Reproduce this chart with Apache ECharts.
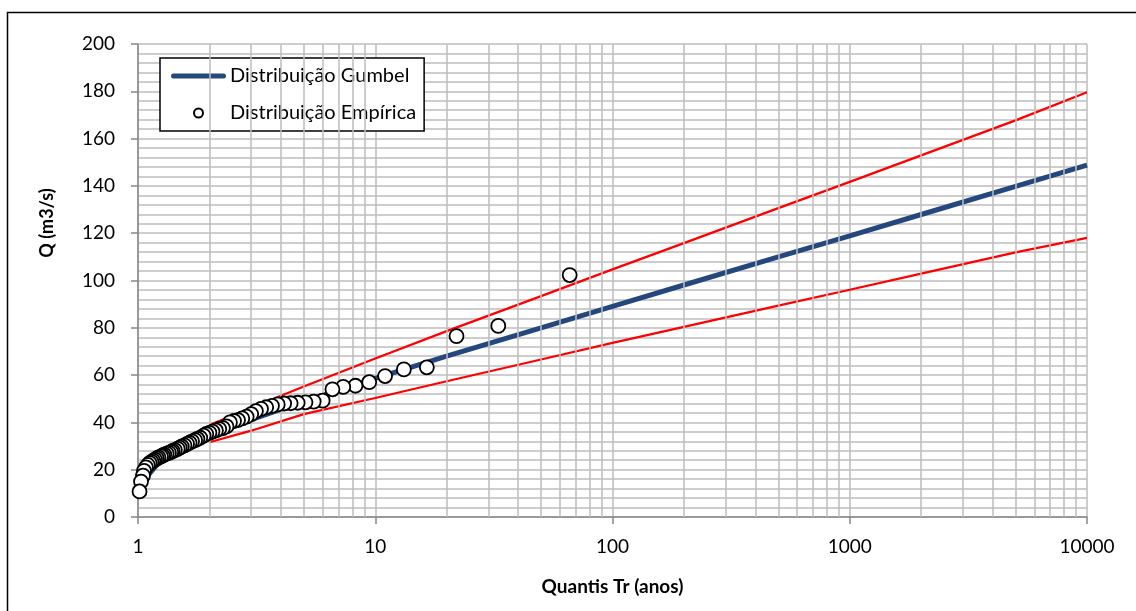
<!DOCTYPE html>
<html>
<head>
<meta charset="utf-8">
<script src="https://cdn.jsdelivr.net/npm/echarts@6/dist/echarts.min.js"></script>
<style>
  html, body { margin: 0; padding: 0; background: #fff; }
  #chart { width: 1136px; height: 611px; }
</style>
</head>
<body>
<div id="chart"></div>
<script>
  // Tr (anos) e Q (m3/s)
  var gumbelT = [1.05, 1.2, 1.5, 2, 3, 5, 10, 20, 50, 100, 200, 500, 1000, 2000, 5000, 10000]
  var gumbelQ = [15.1, 22.0, 28.3, 34.3, 41.2, 48.9, 58.6, 68.0, 80.0, 89.1, 98.1, 110.0, 118.9, 127.9, 139.8, 148.8]

  var bandT = [2, 3, 5, 10, 20, 50, 100, 200, 500, 1000, 2000, 5000, 10000]
  var upperQ = [38.9, 46.2, 55.2, 67.0, 78.6, 93.4, 104.7, 115.8, 130.6, 141.7, 152.9, 167.7, 179.6]
  var lowerQ = [31.6, 36.5, 43.5, 50.3, 57.4, 66.6, 73.6, 80.4, 89.4, 96.1, 102.9, 111.9, 118.0]

  var empT = [66, 33, 22, 16.5, 13.2, 11, 9.43, 8.25, 7.33, 6.6,
    6, 5.5, 5.08, 4.71, 4.4, 4.13, 3.88, 3.67, 3.47, 3.3,
    3.14, 3, 2.87, 2.75, 2.64, 2.54, 2.44, 2.36, 2.28, 2.2,
    2.13, 2.06, 2, 1.94, 1.89, 1.83, 1.78, 1.74, 1.69, 1.65,
    1.61, 1.57, 1.53, 1.5, 1.47, 1.43, 1.4, 1.38, 1.35, 1.32,
    1.29, 1.27, 1.25, 1.22, 1.2, 1.18, 1.16, 1.14, 1.12, 1.1,
    1.08, 1.06, 1.05, 1.03, 1.015]
  var empQ = [102.3, 80.8, 76.5, 63.3, 62.4, 59.6, 57.0, 55.5, 55.0, 54.0,
    49.2, 48.8, 48.5, 48.3, 48.1, 48.0, 47.6, 47.0, 46.4, 45.7,
    44.8, 43.5, 42.4, 41.7, 41.0, 40.6, 40.0, 38.3, 37.6, 37.2,
    36.6, 36.1, 35.6, 35.1, 34.4, 33.5, 33.0, 32.5, 32.0, 31.4,
    30.9, 30.3, 29.8, 29.3, 28.8, 28.3, 27.9, 27.5, 27.1, 26.8,
    26.4, 26.0, 25.6, 25.2, 24.8, 24.3, 23.8, 23.3, 22.8, 22.0,
    21.0, 19.5, 17.5, 15.0, 10.8]

  var minorGridX = [2, 3, 4, 5, 6, 7, 8, 9, 20, 30, 40, 50, 60, 70, 80, 90,
    200, 300, 400, 500, 600, 700, 800, 900, 2000, 3000, 4000, 5000, 6000, 7000, 8000, 9000]

  function pairs(xs, ys) {
    return xs.map(function (x, i) { return [x, ys[i]] })
  }

  var font = 'Lato, "Open Sans", sans-serif'
  var gridColor = '#bdbdbd'
  var lineIcon = 'path://M2.5,0 H52.5 A2.5,2.5 0 0 1 52.5,5 H2.5 A2.5,2.5 0 0 1 2.5,0 Z'

  var chart = echarts.init(document.getElementById('chart'))
  chart.setOption({
    animation: false,
    backgroundColor: '#fff',
    graphic: [{
      type: 'rect',
      shape: { x: 7.5, y: 12.5, width: 1140, height: 610 },
      style: { fill: 'none', stroke: '#000', lineWidth: 1.5 },
      silent: true
    }],
    grid: { left: 138, right: 49, top: 44, bottom: 94 },
    legend: {
      left: 160,
      top: 58,
      orient: 'vertical',
      backgroundColor: '#fff',
      borderColor: '#000',
      borderWidth: 1.5,
      borderRadius: 0,
      padding: [8, 8, 8, 11],
      itemWidth: 55,
      itemHeight: 9,
      itemGap: 17,
      textStyle: { fontFamily: font, fontSize: 20, color: '#000', padding: [0, 0, 0, -1] },
      data: [
        { name: 'Distribuição Gumbel', icon: lineIcon },
        { name: 'Distribuição Empírica' }
      ]
    },
    xAxis: {
      type: 'log',
      logBase: 10,
      min: 1,
      max: 10000,
      name: 'Quantis Tr (anos)',
      nameLocation: 'middle',
      nameGap: 60,
      nameTextStyle: { fontFamily: font, fontSize: 19, fontWeight: 'bold', color: '#000' },
      axisLine: { lineStyle: { color: '#868686', width: 1.5 } },
      axisTick: { show: true, length: 7, lineStyle: { color: '#868686', width: 1.5 } },
      axisLabel: {
        fontFamily: font, fontSize: 19, color: '#000', margin: 20,
        formatter: function (v) { return String(Math.round(v)) }
      },
      splitLine: { show: true, lineStyle: { color: gridColor, width: 1.5 } }
    },
    yAxis: {
      type: 'value',
      min: 0,
      max: 200,
      interval: 20,
      name: 'Q (m3/s)',
      nameLocation: 'middle',
      nameGap: 82,
      nameTextStyle: { fontFamily: font, fontSize: 18, fontWeight: 'bold', color: '#000', padding: [0, 0, 0, 115] },
      axisLine: { show: true, lineStyle: { color: '#868686', width: 1.5 } },
      axisTick: { show: true, length: 7, lineStyle: { color: '#868686', width: 1.5 } },
      axisLabel: { fontFamily: font, fontSize: 19, color: '#000', margin: 23 },
      splitLine: { show: true, lineStyle: { color: gridColor, width: 1.5 } },
      minorTick: { show: false, splitNumber: 5 },
      minorSplitLine: { show: true, lineStyle: { color: gridColor, width: 1.5 } }
    },
    series: [
      {
        name: 'grade',
        type: 'line',
        data: [],
        silent: true,
        z: 1,
        markLine: {
          silent: true,
          symbol: 'none',
          label: { show: false },
          lineStyle: { color: gridColor, width: 1.5, type: 'solid' },
          data: minorGridX.map(function (x) { return { xAxis: x } })
        }
      },
      {
        name: 'Limite superior',
        type: 'line',
        data: pairs(bandT, upperQ),
        symbol: 'none',
        lineStyle: { color: '#ff0000', width: 2.2 },
        z: 3
      },
      {
        name: 'Limite inferior',
        type: 'line',
        data: pairs(bandT, lowerQ),
        symbol: 'none',
        lineStyle: { color: '#ff0000', width: 2.2 },
        z: 3
      },
      {
        name: 'Distribuição Gumbel',
        type: 'line',
        data: pairs(gumbelT, gumbelQ),
        symbol: 'none',
        itemStyle: { color: '#24487e' },
        lineStyle: { color: '#24487e', width: 5 },
        z: 4
      },
      {
        name: 'Distribuição Empírica',
        type: 'scatter',
        data: pairs(empT, empQ),
        symbol: 'circle',
        symbolSize: 14,
        itemStyle: { color: '#fff', borderColor: '#000', borderWidth: 1.8, opacity: 1 },
        z: 5
      }
    ]
  })
</script>
</body>
</html>
